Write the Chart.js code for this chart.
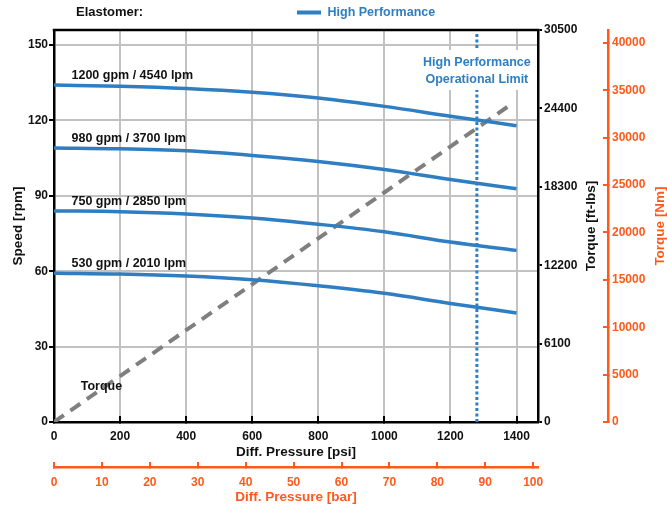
<!DOCTYPE html>
<html>
<head>
<meta charset="utf-8">
<script src="https://cdn.jsdelivr.net/npm/chart.js@4.4.1/dist/chart.umd.min.js"></script>
<style>
  html, body { margin: 0; padding: 0; background: #fff; }
  #wrap { width: 667px; height: 508px; position: relative; }
</style>
</head>
<body>
<div id="wrap"><canvas id="pumpChart"></canvas></div>
<script>
// pump curves, speed vs differential pressure
const pressurePsi = [0, 200, 400, 600, 800, 1000, 1200, 1400];
const speed1200 = [134.1, 133.6, 132.7, 131.2, 128.9, 125.6, 121.7, 117.9];
const speed980 = [109.0, 108.7, 107.9, 106.1, 103.7, 100.5, 96.5, 92.8];
const speed750 = [84.0, 83.7, 82.8, 81.2, 78.7, 75.7, 71.6, 68.3];
const speed530 = [59.2, 58.9, 58.1, 56.6, 54.2, 51.2, 47.2, 43.4];
const flowLabels = ['1200 gpm / 4540 lpm', '980 gpm / 3700 lpm', '750 gpm / 2850 lpm', '530 gpm / 2010 lpm'];

// torque line (ft-lbs)
const torquePsi = [0, 1380];
const torqueFtLbs = [0, 24650];

// operational limit
const limitPsi = [1280, 1280];
const limitSpeed = [0, 154.5];

// tick labels for the Nm axis
const nmTicks = [0, 5000, 10000, 15000, 20000, 25000, 30000, 35000, 40000];

const PSI_PER_BAR = 14.5038;
const NM_PER_FTLB = 1.35582;
const psiMax = 1465;
const rpmMax = 156;
const ftlbMax = 30500;

const blue = '#2f7ec1';
const orange = '#ff5a1c';
const gridGray = '#c2c2c2';
const fontFam = '"Liberation Sans", Arial, sans-serif';

Chart.defaults.font.family = fontFam;
Chart.defaults.font.weight = 'bold';
Chart.defaults.font.size = 12;
Chart.defaults.color = '#111';

const curves = [speed1200, speed980, speed750, speed530];
const plainNum = function(v){ return String(v); };

const datasets = curves.map(function(vals, i){
    return {
        label: flowLabels[i],
        data: pressurePsi.map(function(p, j){ return {x: p, y: vals[j]}; }),
        borderColor: blue,
        borderWidth: 3.5,
        pointRadius: 0,
        cubicInterpolationMode: 'monotone',
        xAxisID: 'x',
        yAxisID: 'y'
    };
});

datasets.push({
    label: 'Torque',
    data: torquePsi.map(function(p, j){ return {x: p, y: torqueFtLbs[j]}; }),
    borderColor: '#7f7f7f',
    borderWidth: 4,
    borderDash: [12, 8],
    pointRadius: 0,
    xAxisID: 'x',
    yAxisID: 'y2'
});

datasets.push({
    label: 'Operational Limit',
    data: limitPsi.map(function(p, j){ return {x: p, y: limitSpeed[j]}; }),
    borderColor: blue,
    borderWidth: 3,
    borderDash: [3, 2.5],
    pointRadius: 0,
    xAxisID: 'x',
    yAxisID: 'y'
});

const decorations = {
    id: 'decorations',
    afterDatasetsDraw(chart) {
        const {ctx, chartArea, scales} = chart;
        const x = scales.x, y = scales.y;
        ctx.save();
        // box behind the limit text
        const lx = x.getPixelForValue(limitPsi[0]);
        ctx.fillStyle = '#fff';
        ctx.fillRect(lx - 56, chartArea.top + 20, 112, 40);
        ctx.font = 'bold 12.5px ' + fontFam;
        ctx.fillStyle = blue;
        ctx.textAlign = 'center';
        ctx.textBaseline = 'middle';
        ctx.fillText('High Performance', lx, chartArea.top + 33);
        ctx.fillText('Operational Limit', lx, chartArea.top + 49.5);

        // curve labels
        ctx.fillStyle = '#111';
        ctx.textAlign = 'left';
        curves.forEach(function(vals, i){
            ctx.fillText(flowLabels[i], x.getPixelForValue(53), y.getPixelForValue(vals[0]) - 9.5);
        });
        ctx.fillText('Torque', x.getPixelForValue(81), y.getPixelForValue(14));

        // top frame line
        ctx.strokeStyle = '#000';
        ctx.lineWidth = 2.5;
        ctx.beginPath();
        ctx.moveTo(chartArea.left - 1.25, chartArea.top);
        ctx.lineTo(chartArea.right + 1.25, chartArea.top);
        ctx.stroke();
        ctx.restore();
    },
    afterDraw(chart) {
        const {ctx, chartArea} = chart;
        const midY = (chartArea.top + chartArea.bottom) / 2;
        ctx.save();
        ctx.textBaseline = 'middle';
        ctx.textAlign = 'left';
        ctx.font = 'bold 13px ' + fontFam;
        ctx.fillStyle = '#111';
        ctx.fillText('Elastomer:', 76, 12.5);

        // legend
        ctx.strokeStyle = blue;
        ctx.lineWidth = 4;
        ctx.beginPath();
        ctx.moveTo(297, 12.5);
        ctx.lineTo(321, 12.5);
        ctx.stroke();
        ctx.font = 'bold 12.5px ' + fontFam;
        ctx.fillStyle = blue;
        ctx.fillText('High Performance', 327.5, 12.5);

        // right axis titles, reading upward
        ctx.textAlign = 'center';
        ctx.font = 'bold 13.5px ' + fontFam;
        ctx.save();
        ctx.translate(591, midY);
        ctx.rotate(-Math.PI / 2);
        ctx.fillStyle = '#111';
        ctx.fillText('Torque [ft-lbs]', 0, 0);
        ctx.restore();
        ctx.save();
        ctx.translate(660, midY);
        ctx.rotate(-Math.PI / 2);
        ctx.fillStyle = orange;
        ctx.fillText('Torque [Nm]', 0, 0);
        ctx.restore();
        ctx.restore();
    }
};

new Chart(document.getElementById('pumpChart'), {
    type: 'line',
    data: { datasets: datasets },
    options: {
        responsive: true,
        maintainAspectRatio: false,
        animation: false,
        layout: { padding: { top: 30, left: 0, right: 0, bottom: 0 } },
        plugins: {
            legend: { display: false },
            tooltip: { enabled: false }
        },
        scales: {
            x: {
                type: 'linear',
                position: 'bottom',
                weight: 0,
                min: 0,
                max: psiMax,
                ticks: { stepSize: 200, includeBounds: false, padding: 13, color: '#111', callback: plainNum },
                grid: { color: gridGray, lineWidth: 2, tickColor: '#000', tickLength: -6 },
                border: { color: '#000', width: 2.5 },
                title: { display: true, text: 'Diff. Pressure [psi]', font: { size: 13.5, weight: 'bold' }, color: '#111', padding: { top: 0, bottom: 7 } },
                afterFit: function(s){ s.height = 45; }
            },
            xBar: {
                type: 'linear',
                position: 'bottom',
                weight: 1,
                min: 0,
                max: psiMax / PSI_PER_BAR,
                ticks: { stepSize: 10, includeBounds: false, padding: 13, color: orange, callback: plainNum },
                grid: { drawOnChartArea: false, color: orange, lineWidth: 2, tickLength: -5 },
                border: { color: orange, width: 2.5 },
                title: { display: true, text: 'Diff. Pressure [bar]', font: { size: 13.5, weight: 'bold' }, color: orange, padding: { top: 0, bottom: 3 } },
                afterFit: function(s){ s.height = 41; }
            },
            y: {
                type: 'linear',
                position: 'left',
                min: 0,
                max: rpmMax,
                ticks: { stepSize: 30, includeBounds: false, padding: 1, color: '#111', callback: plainNum },
                grid: { color: gridGray, lineWidth: 2, tickColor: '#000', tickLength: 5 },
                border: { color: '#000', width: 2.5 },
                title: { display: true, text: 'Speed [rpm]', font: { size: 13.5, weight: 'bold' }, color: '#111', padding: { top: 10, bottom: 0 } },
                afterFit: function(s){ s.width = 54; }
            },
            y2: {
                type: 'linear',
                position: 'right',
                weight: 0,
                min: 0,
                max: ftlbMax,
                ticks: { stepSize: 6100, padding: 2, color: '#111', callback: plainNum },
                grid: { drawOnChartArea: false, color: '#000', lineWidth: 2, tickLength: 4 },
                border: { color: '#000', width: 2.5 },
                afterFit: function(s){ s.width = 70; }
            },
            yNm: {
                type: 'linear',
                position: 'right',
                weight: 1,
                min: 0,
                max: ftlbMax * NM_PER_FTLB,
                ticks: { padding: 9, color: orange, callback: plainNum },
                grid: { drawOnChartArea: false, color: orange, lineWidth: 2, tickLength: -5 },
                border: { color: orange, width: 2.5 },
                afterBuildTicks: function(s){ s.ticks = nmTicks.map(function(v){ return {value: v}; }); },
                afterFit: function(s){ s.width = 59; }
            }
        }
    },
    plugins: [decorations]
});
</script>
</body>
</html>
